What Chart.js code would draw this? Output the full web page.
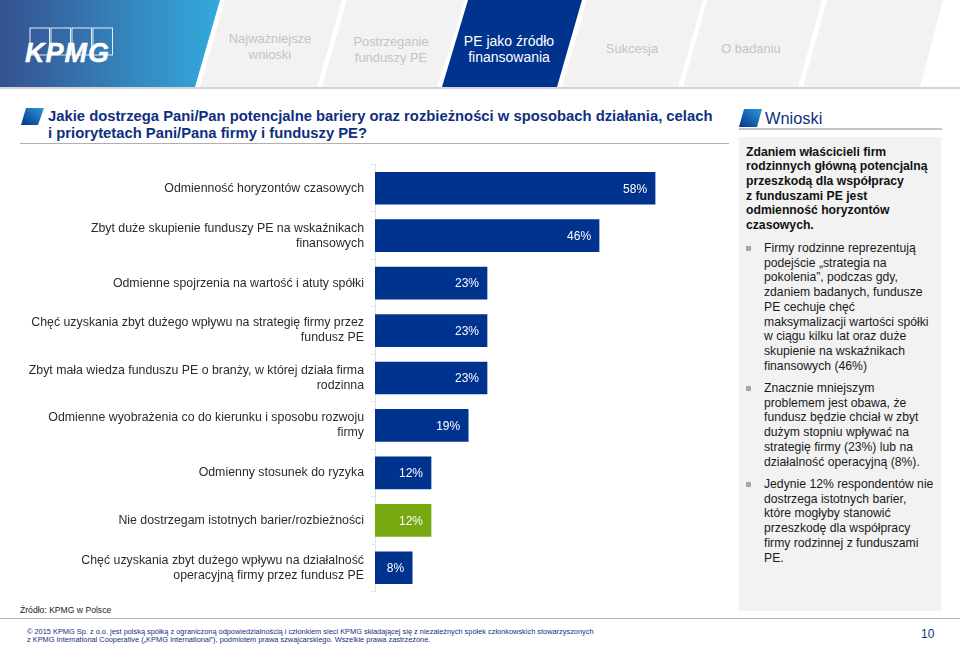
<!DOCTYPE html>
<html lang="pl">
<head>
<meta charset="utf-8">
<title>PE jako źródło finansowania</title>
<script src="https://cdn.jsdelivr.net/npm/chart.js@4"></script>
<style>
html, body { margin: 0; padding: 0; background: #fff; }
body { width: 960px; height: 648px; position: relative; overflow: hidden; font-family: "Liberation Sans", Arial, sans-serif; }
#chrome { position: absolute; left: 0; top: 0; }
.t { position: absolute; white-space: nowrap; }
.tab { color: #c4c4c4; font-size: 12.9px; line-height: 16px; text-align: center; transform: translateX(-50%); }
.title { color: #0f2f80; font-weight: bold; font-size: 14.8px; }
.side { color: #1a1a1a; font-size: 12.2px; }
.side.b { font-weight: bold; color: #111; }
.bullet { position: absolute; left: 746px; width: 5px; height: 5px; background: #a6a6a6; }
#chart-wrap { position: absolute; left: 0; top: 160px; width: 720px; height: 436px; }
</style>
</head>
<body>
<svg id="chrome" width="960" height="648" xmlns="http://www.w3.org/2000/svg">
  <defs>
    <linearGradient id="hdr" x1="0" x2="1" y1="0" y2="0">
      <stop offset="0" stop-color="#35508f"/>
      <stop offset="1" stop-color="#33aadd"/>
    </linearGradient>
    <linearGradient id="ico" x1="0" x2="1" y1="1" y2="0">
      <stop offset="0" stop-color="#00338d"/>
      <stop offset="1" stop-color="#2f9bd6"/>
    </linearGradient>
  </defs>
  <polygon points="0,0 220,0 195,87 0,87" fill="url(#hdr)"/>
  <polygon points="225,0 342,0 317,87 200,87" fill="#f2f2f2"/>
  <polygon points="347,0 465,0 437,87 322,87" fill="#f2f2f2"/>
  <polygon points="468,0 582,0 557,87 442,87" fill="#00338d"/>
  <polygon points="587,0 703,0 678,87 562,87" fill="#f2f2f2"/>
  <polygon points="707,0 822,0 798,87 683,87" fill="#f2f2f2"/>
  <polygon points="827,0 943,0 920,87 803,87" fill="#f2f2f2"/>
  <rect x="0" y="87" width="960" height="2" fill="#d4d4d4"/>
  <g fill="none" stroke="#e6edf5" stroke-width="1">
    <rect x="30" y="28" width="19.5" height="27"/>
    <rect x="51" y="28" width="19.5" height="27"/>
    <rect x="72" y="28" width="19.5" height="27"/>
    <rect x="93" y="28" width="19.5" height="27"/>
  </g>
  <polygon points="26,108 44,108 38,125 21,125" fill="url(#ico)"/>
  <rect x="20" y="143" width="709" height="1" fill="#b0b0b0"/>
  <polygon points="744,109 762,109 757,127 739,127" fill="url(#ico)"/>
  <rect x="739" y="128" width="203" height="2" fill="#c4c4c4"/>
  <rect x="739" y="137" width="202" height="474" fill="#f2f2f2"/>
  <rect x="0" y="618" width="960" height="1" fill="#b5b5b5"/>
</svg>

<div class="t" style="left:25px;top:37px;font-size:27px;font-weight:bold;font-style:italic;color:#fff;letter-spacing:1px;line-height:32px;-webkit-text-stroke:0.4px #fff;">KPMG</div>
<div class="t tab" style="left:270px;top:31px;">Najważniejsze<br>wnioski</div>
<div class="t tab" style="left:391px;top:34px;">Postrzeganie<br>funduszy PE</div>
<div class="t tab" style="left:509px;top:33px;color:#fff;font-size:14px;">PE jako źródło<br>finansowania</div>
<div class="t tab" style="left:632px;top:41px;">Sukcesja</div>
<div class="t tab" style="left:751px;top:41px;">O badaniu</div>

<div class="t title" style="left:48px;top:108px;">Jakie dostrzega Pani/Pan potencjalne bariery oraz rozbieżności w sposobach działania, celach</div>
<div class="t title" style="left:48px;top:125px;">i priorytetach Pani/Pana firmy i funduszy PE?</div>
<div class="t" style="left:765px;top:109px;font-size:16.4px;color:#0f2f80;">Wnioski</div>

<div id="side"></div>

<div id="chart-wrap"><canvas id="barChart" width="720" height="436"></canvas></div>

<div class="t" style="left:20px;top:605px;font-size:8.6px;color:#222;">Źródło: KPMG w Polsce</div>
<div class="t" style="left:27px;top:627px;font-size:7.4px;color:#0f2f80;">© 2015 KPMG Sp. z o.o. jest polską spółką z ograniczoną odpowiedzialnością i członkiem sieci KPMG składającej się z niezależnych spółek członkowskich stowarzyszonych</div>
<div class="t" style="left:27px;top:635px;font-size:7.4px;color:#0f2f80;">z KPMG International Cooperative („KPMG International”), podmiotem prawa szwajcarskiego. Wszelkie prawa zastrzeżone.</div>
<div class="t" style="left:921px;top:627px;font-size:12px;color:#0f2f80;">10</div>

<script>
/* --- DATA --- */
const categories = [
    ['Odmienność horyzontów czasowych'],
    ['Zbyt duże skupienie funduszy PE na wskaźnikach', 'finansowych'],
    ['Odmienne spojrzenia na wartość i atuty spółki'],
    ['Chęć uzyskania zbyt dużego wpływu na strategię firmy przez', 'fundusz PE'],
    ['Zbyt mała wiedza funduszu PE o branży, w której działa firma', 'rodzinna'],
    ['Odmienne wyobrażenia co do kierunku i sposobu rozwoju', 'firmy'],
    ['Odmienny stosunek do ryzyka'],
    ['Nie dostrzegam istotnych barier/rozbieżności'],
    ['Chęć uzyskania zbyt dużego wpływu na działalność', 'operacyjną firmy przez fundusz PE']
];
// bar lengths, printed labels are the rounded figures
const barValues = [58, 46.4, 23.2, 23.2, 23.2, 19.3, 11.6, 11.6, 7.7];
const percentLabels = ['58%', '46%', '23%', '23%', '23%', '19%', '12%', '12%', '8%'];
const barColors = ['#00338d', '#00338d', '#00338d', '#00338d', '#00338d', '#00338d', '#00338d', '#76a90f', '#00338d'];

const sideLead = ['Zdaniem właścicieli firm', 'rodzinnych główną potencjalną', 'przeszkodą dla współpracy', 'z funduszami PE jest', 'odmienność horyzontów', 'czasowych.'];
const sideBullets = [
    ['Firmy rodzinne reprezentują', 'podejście „strategia na', 'pokolenia”, podczas gdy,', 'zdaniem badanych, fundusze', 'PE cechuje chęć', 'maksymalizacji wartości spółki', 'w ciągu kilku lat oraz duże', 'skupienie na wskaźnikach', 'finansowych (46%)'],
    ['Znacznie mniejszym', 'problemem jest obawa, że', 'fundusz będzie chciał w zbyt', 'dużym stopniu wpływać na', 'strategię firmy (23%) lub na', 'działalność operacyjną (8%).'],
    ['Jedynie 12% respondentów nie', 'dostrzega istotnych barier,', 'które mogłyby stanowić', 'przeszkodę dla współpracy', 'firmy rodzinnej z funduszami', 'PE.']
];

/* --- SIDE PANEL --- */
function renderSidePanel() {
    const side = document.getElementById('side');
    let html = '';
    sideLead.forEach((line, i) => {
        html += `<div class="t side b" style="left:746px;top:${144.5 + i * 14.7}px">${line}</div>`;
    });
    const starts = [241, 381, 477];
    sideBullets.forEach((lines, b) => {
        html += `<div class="bullet" style="top:${starts[b] + 5}px"></div>`;
        lines.forEach((line, i) => {
            html += `<div class="t side" style="left:764px;top:${starts[b] + i * 14.7}px">${line}</div>`;
        });
    });
    side.innerHTML = html;
}

/* --- CHART --- */
const valueLabels = {
    id: 'valueLabels',
    afterDatasetsDraw(chart) {
        const ctx = chart.ctx;
        const meta = chart.getDatasetMeta(0);
        ctx.save();
        ctx.font = '12px "Liberation Sans", Arial, sans-serif';
        ctx.fillStyle = '#ffffff';
        ctx.textAlign = 'right';
        ctx.textBaseline = 'middle';
        meta.data.forEach((bar, i) => {
            ctx.fillText(percentLabels[i], bar.x - 8, bar.y + 1);
        });
        ctx.restore();
    }
};

function renderChart() {
    new Chart(document.getElementById('barChart'), {
        type: 'bar',
        data: {
            labels: categories,
            datasets: [{
                data: barValues,
                backgroundColor: barColors,
                borderWidth: 0,
                barThickness: 32
            }]
        },
        options: {
            indexAxis: 'y',
            responsive: false,
            animation: false,
            layout: { padding: { top: 4.5, bottom: 4.5, right: 7, left: 0 } },
            plugins: { legend: { display: false }, tooltip: { enabled: false } },
            scales: {
                x: { display: false, min: 0, max: 70 },
                y: {
                    afterFit(scale) {
                        // keep the axis at a fixed x and stop the labels from shrinking the plot
                        scale.width = 375;
                        scale.paddingTop = 0;
                        scale.paddingBottom = 0;
                    },
                    grid: { drawOnChartArea: false, color: '#e2e2e2', tickLength: 4 },
                    border: { color: '#e2e2e2' },
                    ticks: {
                        color: '#2b2b2b',
                        font: { family: '"Liberation Sans", Arial, sans-serif', size: 12.35, lineHeight: 1.22 },
                        crossAlign: 'near',
                        padding: 7,
                        autoSkip: false
                    }
                }
            }
        },
        plugins: [valueLabels]
    });
}

renderSidePanel();
renderChart();
</script>
</body>
</html>
